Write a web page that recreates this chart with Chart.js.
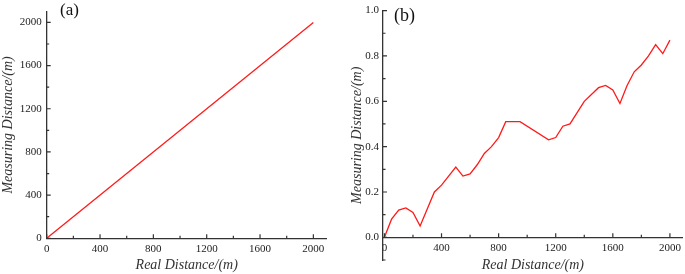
<!DOCTYPE html>
<html>
<head>
<meta charset="utf-8">
<script src="https://cdn.jsdelivr.net/npm/chart.js@4.4.1/dist/chart.umd.min.js"></script>
<style>
  body { margin: 0; background: #fff; }
  #wa { position: absolute; left: 0; top: 0; width: 340px; height: 274px; }
  #wb { position: absolute; left: 340px; top: 0; width: 345px; height: 274px; }
</style>
</head>
<body>
<div id="wa"><canvas id="chartA"></canvas></div>
<div id="wb"><canvas id="chartB"></canvas></div>
<script>
// (a) measured vs real distance, metres
const realA = [0, 2000];
const measA = [0, 2000];
const ticksA = [0, 400, 800, 1200, 1600, 2000];
const minorA = [200, 600, 1000, 1400, 1800];

// (b) measuring error, metres
const realB = [0, 50, 100, 150, 200, 250, 350, 400, 500, 550, 600, 650, 700, 750, 800, 850, 950,
  1150, 1200, 1250, 1300, 1400, 1500, 1550, 1600, 1650, 1700, 1750, 1800, 1850, 1900, 1950, 2000];
const measB = [0, 0.08, 0.12, 0.13, 0.11, 0.05, 0.20, 0.23, 0.31, 0.27, 0.28, 0.32, 0.37, 0.40, 0.44, 0.51, 0.51,
  0.43, 0.44, 0.49, 0.50, 0.60, 0.66, 0.67, 0.65, 0.59, 0.67, 0.73, 0.76, 0.80, 0.85, 0.81, 0.87];
const xTicksB = [0, 400, 800, 1200, 1600, 2000];
const xMinorB = [200, 600, 1000, 1400, 1800];
const yTicksB = [0, 0.2, 0.4, 0.6, 0.8, 1.0];
const yMinorB = [-0.1, 0.1, 0.3, 0.5, 0.7, 0.9];

const axisColor = '#333';
const serif = '"Liberation Serif", "Times New Roman", serif';

// ticks pointing into the plot, plus the panel letter
function innerTicks(label, lx, ly, size, xMajor, xMinor, yMajor, yMinor) {
  return {
    id: 'innerTicks',
    afterDraw(chart) {
      const c = chart.ctx, xs = chart.scales.x, ys = chart.scales.y;
      const y0 = ys.getPixelForValue(0);
      const x0 = chart.chartArea.left;
      c.save();
      c.strokeStyle = axisColor;
      c.lineWidth = 1.2;
      c.beginPath();
      xMajor.forEach(v => { const p = xs.getPixelForValue(v); c.moveTo(p, y0); c.lineTo(p, y0 - 4); });
      xMinor.forEach(v => { const p = xs.getPixelForValue(v); c.moveTo(p, y0); c.lineTo(p, y0 - 2.5); });
      yMajor.forEach(v => { const p = ys.getPixelForValue(v); c.moveTo(x0, p); c.lineTo(x0 + 4, p); });
      yMinor.forEach(v => { const p = ys.getPixelForValue(v); c.moveTo(x0, p); c.lineTo(x0 + 2.5, p); });
      c.stroke();
      c.fillStyle = '#111';
      c.font = size + 'px ' + serif;
      c.textBaseline = 'alphabetic';
      c.fillText(label, lx, ly);
      c.restore();
    }
  };
}

const ctxA = document.getElementById('chartA');
new Chart(ctxA, {
  type: 'line',
  data: {
    labels: realA,
    datasets: [{
      data: realA.map((x, i) => ({ x: x, y: measA[i] })),
      borderColor: '#ff1a1a',
      borderWidth: 1.3,
      pointRadius: 0,
      tension: 0
    }]
  },
  options: {
    animation: false,
    responsive: true,
    maintainAspectRatio: false,
    layout: { padding: { left: 0, right: 13.3, top: 0, bottom: 0 } },
    plugins: { legend: { display: false }, tooltip: { enabled: false } },
    scales: {
      x: {
        type: 'linear',
        min: 0, max: 2100,
        afterBuildTicks: s => { s.ticks = ticksA.map(v => ({ value: v })); },
        afterFit: s => { s.height = 35.7; },
        grid: { drawOnChartArea: false, drawTicks: false },
        border: { color: axisColor, width: 1.3 },
        ticks: { padding: 4, maxRotation: 0, color: '#222', font: { family: serif, size: 11 },
          callback: v => String(v) },
        title: { display: true, text: 'Real Distance/(m)', color: '#333',
          font: { family: serif, size: 14, style: 'italic' }, padding: 0 }
      },
      y: {
        min: 0, max: 2100,
        afterBuildTicks: s => { s.ticks = ticksA.map(v => ({ value: v })); },
        afterFit: s => { s.width = 46.7; },
        grid: { drawOnChartArea: false, drawTicks: false },
        border: { color: axisColor, width: 1.3 },
        ticks: { padding: 5, color: '#222', font: { family: serif, size: 11 },
          callback: v => String(v) },
        title: { display: true, text: 'Measuring Distance/(m)', color: '#333',
          font: { family: serif, size: 14, style: 'italic' }, padding: 0 }
      }
    }
  },
  plugins: [innerTicks('(a)', 60, 15, 17, ticksA, minorA, ticksA, minorA)]
});

const ctxB = document.getElementById('chartB');
new Chart(ctxB, {
  type: 'line',
  data: {
    labels: realB,
    datasets: [{
      data: realB.map((x, i) => ({ x: x, y: measB[i] })),
      borderColor: '#ff1a1a',
      borderWidth: 1.3,
      pointRadius: 0,
      tension: 0
    }]
  },
  options: {
    animation: false,
    responsive: true,
    maintainAspectRatio: false,
    layout: { padding: { left: 9, right: 2, top: 9.5, bottom: 14 } },
    plugins: { legend: { display: false }, tooltip: { enabled: false } },
    scales: {
      x: {
        type: 'linear',
        position: { y: 0 },
        min: -10, max: 2090,
        afterBuildTicks: s => { s.ticks = xTicksB.map(v => ({ value: v })); },
        afterFit: s => { s.height = 36.4; },
        grid: { drawOnChartArea: false, drawTicks: false },
        border: { color: axisColor, width: 1.3 },
        ticks: { padding: 4, maxRotation: 0, color: '#222', font: { family: serif, size: 11 },
          callback: v => String(v) },
        title: { display: true, text: 'Real Distance/(m)', color: '#333',
          font: { family: serif, size: 14, style: 'italic' }, padding: 0 }
      },
      y: {
        min: -0.1, max: 1.0,
        afterBuildTicks: s => { s.ticks = yTicksB.map(v => ({ value: v })); },
        afterFit: s => { s.width = 34; },
        grid: { drawOnChartArea: false, drawTicks: false },
        border: { color: axisColor, width: 1.3 },
        ticks: { padding: 4, color: '#222', font: { family: serif, size: 11 },
          callback: v => v.toFixed(1) },
        title: { display: true, text: 'Measuring Distance/(m)', color: '#333',
          font: { family: serif, size: 14, style: 'italic' }, padding: 0 }
      }
    }
  },
  plugins: [innerTicks('(b)', 54, 21, 18, xTicksB, xMinorB, yTicksB, yMinorB)]
});
</script>
</body>
</html>
